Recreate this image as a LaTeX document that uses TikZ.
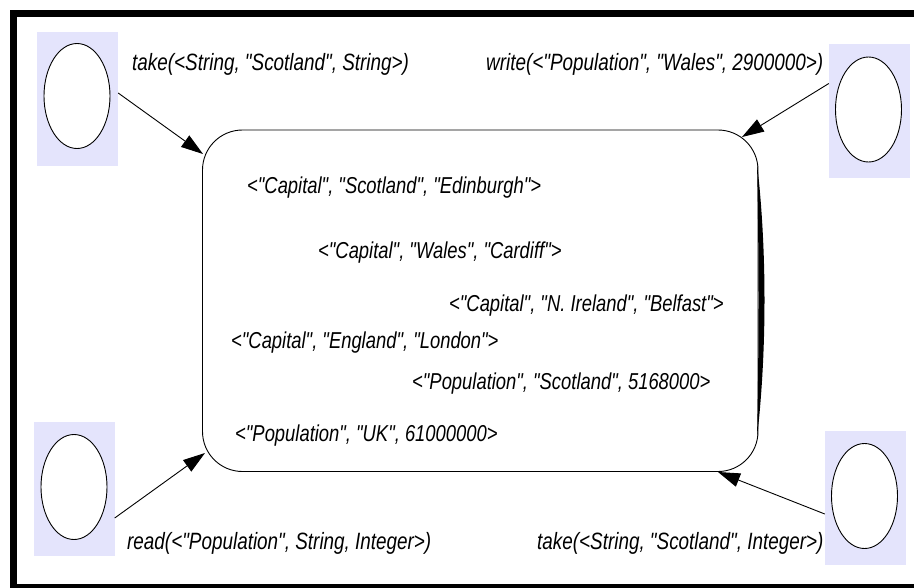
\documentclass[tikz,border=0pt]{standalone}
\usepackage{fontspec}
\setmainfont{Liberation Sans}[FakeStretch=0.8, Ligatures=TeXOff]
\usetikzlibrary{arrows.meta,shapes.geometric}
\definecolor{slotfill}{RGB}{228,228,252}
\begin{document}
\begin{tikzpicture}[x=1pt,y=-1pt,
  slot/.style={fill=slotfill, draw=none, rectangle, minimum width=81pt, minimum height=134pt, inner sep=0pt},
  agent/.style={ellipse, draw, line width=0.9pt, fill=white, minimum width=66pt, minimum height=105pt, inner sep=0pt},
  tuple/.style={font=\fontsize{23}{27}\selectfont\itshape, inner sep=0pt, anchor=base west},
  op/.style={font=\fontsize{23.6}{28}\selectfont\itshape, inner sep=0pt, anchor=base west},
  flow/.style={line width=0.9pt, -{Triangle[length=22pt,width=14pt]}},
]
\useasboundingbox (0,0) rectangle (914,587);
\clip (0,0) rectangle (914,587);
\fill[white] (0,0) rectangle (914,587);
% outer frame
\draw[line width=7pt] (13.5,13.5) rectangle (921,587.5);

% tuple space
\node[draw, rectangle, rounded corners=40pt, line width=0.9pt,
      minimum width=555.5pt, minimum height=341.5pt, inner sep=0pt]
      (space) at (480.25,300.75) {};
\fill (757,163) .. controls (767,250) and (767,350) .. (757,438)
      .. controls (759,350) and (759,250) .. cycle;

% agents
\node[slot] (tlbox) at (77.5,98.5) {};
\node[agent] (tlagent) at (77,96) {};
\node[slot] (trbox) at (869.5,110.5) {};
\node[agent] (tragent) at (868.5,109.5) {};
\node[slot] (blbox) at (74,489) {};
\node[agent] (blagent) at (74,487) {};
\node[slot] (brbox) at (865.5,498) {};
\node[agent] (bragent) at (864.5,496) {};

% arrow targets on the space border
\coordinate (tltip) at (203,154);
\coordinate (trtip) at (742,137);
\coordinate (bltip) at (205,453);
\coordinate (brtip) at (718,472);

\draw[flow] ([yshift=5.5pt]tlbox.east) -- (tltip);
\draw[flow] ([yshift=27pt]trbox.west) -- (trtip);
\draw[flow] ([yshift=-29pt]blbox.east) -- (bltip);
\draw[flow] ([yshift=-16pt]brbox.west) -- (brtip);

% operations
\node[op] (optl) at (132,70) {take(<String, "Scotland", String>)};
\node[op] (optr) at (486,70) {write(<"Population", "Wales", 2900000>)};
\node[op] (opbl) at (127,549) {read(<"Population", String, Integer>)};
\node[op] (opbr) at (537,549) {take(<String, "Scotland", Integer>)};

% tuples
\node[tuple] (t1) at (247,193) {<"Capital", "Scotland", "Edinburgh">};
\node[tuple] (t2) at (318,258) {<"Capital", "Wales", "Cardiff">};
\node[tuple] (t3) at (449,311) {<"Capital", "N. Ireland", "Belfast">};
\node[tuple] (t4) at (231,348) {<"Capital", "England", "London">};
\node[tuple] (t5) at (412,389) {<"Population", "Scotland", 5168000>};
\node[tuple] (t6) at (235,441) {<"Population", "UK", 61000000>};
\end{tikzpicture}
\end{document}
